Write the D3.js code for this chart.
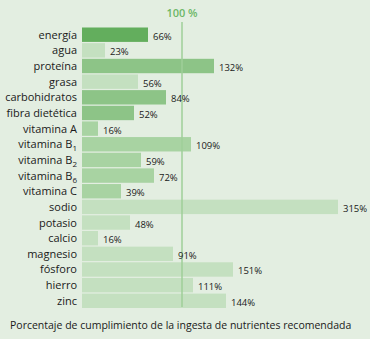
<!DOCTYPE html>
<html><head><meta charset="utf-8">
<script src="https://cdn.jsdelivr.net/npm/d3@7"></script>
<style>html,body{margin:0;padding:0;background:#e3eee1;}svg{display:block;}</style>
</head><body>
<svg id="c" width="370" height="339"></svg>
<script>
const categories = ["energía","agua","proteína","grasa","carbohidratos","fibra dietética","vitamina A","vitamina B1","vitamina B2","vitamina B6","vitamina C","sodio","potasio","calcio","magnesio","fósforo","hierro","zinc"];
const labelMain = ["energía","agua","proteína","grasa","carbohidratos","fibra dietética","vitamina A","vitamina B","vitamina B","vitamina B","vitamina C","sodio","potasio","calcio","magnesio","fósforo","hierro","zinc"];
const labelSub = ["","","","","","","","1","2","6","","","","","","","",""];
const values = [66,23,132,56,84,52,16,109,59,72,39,315,48,16,91,151,111,144];
const groups = ["energy","light","macro","light","macro","macro","vitamin","vitamin","vitamin","vitamin","vitamin","mineral","mineral","mineral","mineral","mineral","mineral","mineral"];
const referenceValue = 100;
const referenceLabel = "100 %";
const caption = "Porcentaje de cumplimiento de la ingesta de nutrientes recomendada";

const svg = d3.select("#c");
const font = "'Open Sans', 'Noto Sans', sans-serif";
const color = d3.scaleOrdinal().domain(["energy","macro","vitamin","light","mineral"])
  .range(["#63ae5d","#8dc487","#a8d3a2","#c4e0c0","#c4e0c0"]);

const x = d3.scaleLinear().domain([0,256]).range([82,338]).clamp(true);
const y = d3.scaleBand().domain(categories).range([27.5,308]).paddingInner(0.08).paddingOuter(0.0);

svg.append("rect").attr("width",370).attr("height",339).attr("fill","#e3eee1");

svg.selectAll("rect.bar").data(categories).join("rect").attr("class","bar")
  .attr("x", x(0)).attr("y", d=>y(d))
  .attr("width", (d,i)=>x(values[i])-x(0)).attr("height", y.bandwidth())
  .attr("fill", (d,i)=>color(groups[i]));

// reference line
svg.append("line").attr("x1",x(referenceValue)).attr("x2",x(referenceValue))
  .attr("y1",22).attr("y2",307).attr("stroke","#9fcf98").attr("stroke-width",1.5);
svg.append("text").attr("x",x(referenceValue)).attr("y",17).attr("text-anchor","middle")
  .attr("font-family",font).attr("font-size",11).attr("font-weight",600).attr("fill","#6cb766").text(referenceLabel);

// category labels
const lab = svg.selectAll("text.cat").data(categories).join("text").attr("class","cat")
  .attr("x",77).attr("y",d=>y(d)+y.bandwidth()/2+4).attr("text-anchor","end")
  .attr("font-family",font).attr("font-size",11).attr("fill","#1a1a1a");
lab.each(function(d,i){
  const t=d3.select(this);
  t.append("tspan").text(labelMain[i]);
  if(labelSub[i]) t.append("tspan").attr("font-size",8).attr("dy",3).text(labelSub[i]);
});

// value labels
svg.selectAll("text.val").data(categories).join("text").attr("class","val")
  .attr("x",(d,i)=>x(values[i])+5).attr("y",d=>y(d)+y.bandwidth()/2+5)
  .attr("font-family",font).attr("font-size",9.5).attr("fill","#1a1a1a")
  .text((d,i)=>values[i]+"%");

svg.append("text").attr("x",10).attr("y",329).attr("font-family",font).attr("font-size",10.5)
  .attr("fill","#1a1a1a").text(caption);
</script>
</body></html>
